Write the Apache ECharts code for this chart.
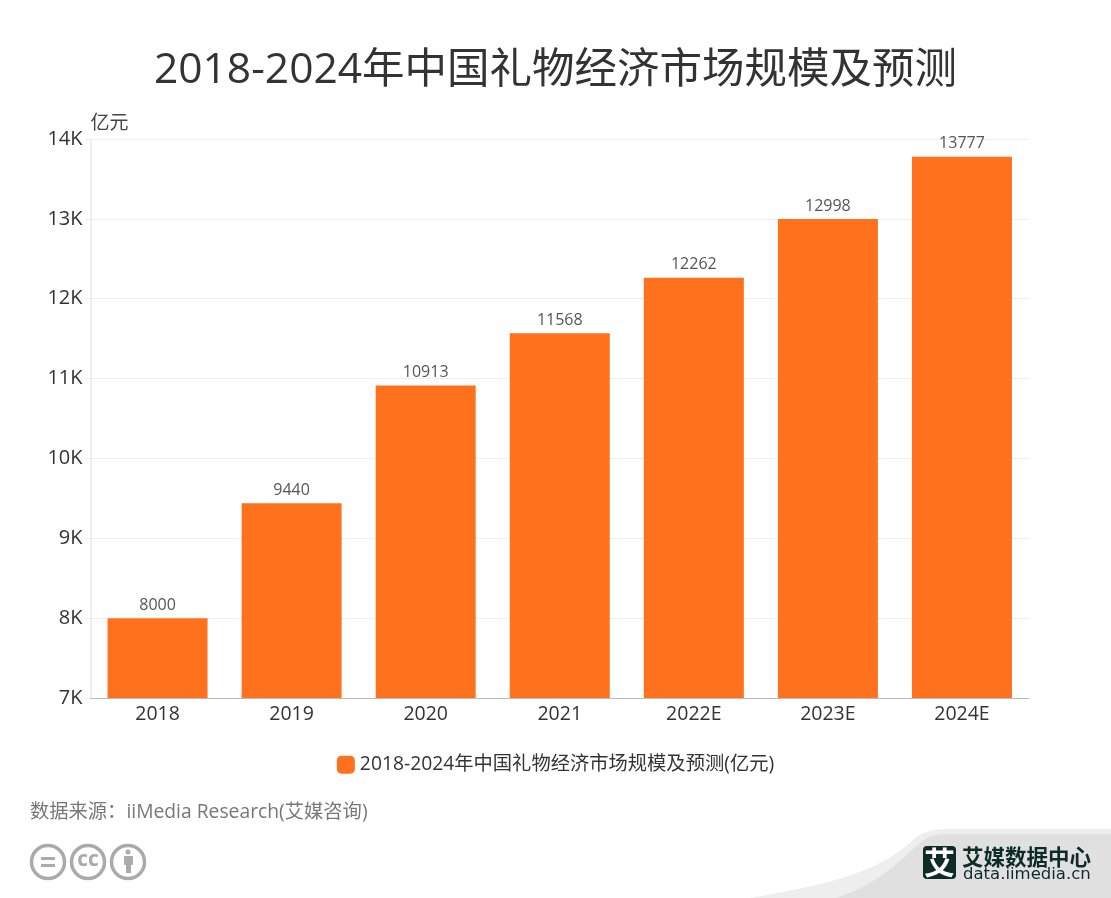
<!DOCTYPE html>
<html lang="zh">

<head>
    <meta charset="UTF-8">
    <title>2018-2024年中国礼物经济市场规模及预测</title>
    <script src="https://cdn.jsdelivr.net/npm/echarts@6/dist/echarts.min.js"></script>
    <style>
        html, body { margin: 0; padding: 0; background: #fff; }
        #main { width: 1111px; height: 898px; }
    </style>
</head>

<body>
    <div id="main"></div>
    <script>
        var years = ['2018', '2019', '2020', '2021', '2022E', '2023E', '2024E'];
        var marketSize = [8000, 9440, 10913, 11568, 12262, 12998, 13777];
        var seriesName = '2018-2024年中国礼物经济市场规模及预测(亿元)';
        var titleText = '2018-2024年中国礼物经济市场规模及预测';
        var sourceText = '数据来源：iiMedia Research(艾媒咨询)';
        var fontFamily = '"Open Sans", "Noto Sans CJK SC", sans-serif';

        // graphic 组件没有 path 类型，水印曲线单独注册
        echarts.graphic.registerShape('waveOuter', echarts.graphic.extendShape({
            buildPath: function (ctx) {
                ctx.moveTo(750, 898);
                ctx.bezierCurveTo(830, 884, 880, 872, 913, 840);
                ctx.bezierCurveTo(922, 832, 932, 829, 950, 829);
                ctx.lineTo(1111, 829);
                ctx.lineTo(1111, 898);
                ctx.closePath();
            }
        }));
        echarts.graphic.registerShape('waveInner', echarts.graphic.extendShape({
            buildPath: function (ctx) {
                ctx.moveTo(835, 898);
                ctx.bezierCurveTo(875, 886, 895, 865, 920, 843);
                ctx.bezierCurveTo(928, 836, 935, 834, 950, 834);
                ctx.lineTo(1111, 834);
                ctx.lineTo(1111, 898);
                ctx.closePath();
            }
        }));

        var myChart = echarts.init(document.getElementById('main'), null, { renderer: 'canvas' });

        // 右下角水印和左下角 cc 图标
        var decorations = [
            { type: 'waveOuter', style: { fill: '#eeeeee' } },
            { type: 'waveInner', style: { fill: '#e0e0e0' } },
            { type: 'rect', shape: { x: 923, y: 846, width: 33, height: 33, r: 4 }, style: { fill: '#0f2b26' } },
            { type: 'text', x: 939.5, y: 862.5, style: { text: '艾', fill: '#fff', font: 'bold 31px "Noto Sans CJK SC"', align: 'center', verticalAlign: 'middle' } },
            { type: 'text', x: 962, y: 857, style: { text: '艾媒数据中心', fill: '#0f2b26', font: 'bold 21.5px "Noto Sans CJK SC"', verticalAlign: 'middle' } },
            { type: 'text', x: 963, y: 875, style: { text: 'data.iimedia.cn', fill: '#0f2b26', font: '16.5px "DejaVu Sans"', verticalAlign: 'middle' } },
            { type: 'circle', shape: { cx: 48, cy: 862, r: 16.5 }, style: { fill: 'none', stroke: '#aaaaaa', lineWidth: 3.5 } },
            { type: 'rect', shape: { x: 41, y: 857, width: 14, height: 3 }, style: { fill: '#aaaaaa' } },
            { type: 'rect', shape: { x: 41, y: 864, width: 14, height: 3 }, style: { fill: '#aaaaaa' } },
            { type: 'circle', shape: { cx: 88, cy: 862, r: 16.5 }, style: { fill: 'none', stroke: '#aaaaaa', lineWidth: 3.5 } },
            { type: 'text', x: 88, y: 860, style: { text: 'cc', fill: '#aaaaaa', font: 'bold 21px "Open Sans"', align: 'center', verticalAlign: 'middle' } },
            { type: 'circle', shape: { cx: 128, cy: 862, r: 16.5 }, style: { fill: 'none', stroke: '#aaaaaa', lineWidth: 3.5 } },
            { type: 'circle', shape: { cx: 128, cy: 852, r: 2.5 }, style: { fill: '#aaaaaa' } },
            { type: 'rect', shape: { x: 124, y: 856, width: 9, height: 9, r: 1 }, style: { fill: '#aaaaaa' } },
            { type: 'rect', shape: { x: 126, y: 864, width: 5, height: 9 }, style: { fill: '#aaaaaa' } },
            { type: 'text', x: 30, y: 813, style: { text: sourceText, fill: '#777777', font: '19.3px ' + fontFamily, verticalAlign: 'middle' } }
        ];

        var option = {
            animation: false,
            backgroundColor: '#fff',
            textStyle: { fontFamily: fontFamily },
            title: {
                text: titleText,
                left: 'center',
                top: 45,
                textStyle: { fontSize: 42.5, fontWeight: 'normal', color: '#333', fontFamily: fontFamily }
            },
            legend: {
                data: [seriesName],
                top: 750,
                left: 'center',
                itemWidth: 18,
                itemHeight: 18,
                itemGap: 6,
                icon: 'roundRect',
                textStyle: { fontSize: 19.3, color: '#333', fontFamily: fontFamily, padding: [0, 0, 0, 0] }
            },
            grid: { left: 90.5, right: 82, top: 139, bottom: 200 },
            xAxis: {
                type: 'category',
                data: years,
                axisLine: { lineStyle: { color: '#bbbbbb', width: 1 } },
                axisTick: { alignWithLabel: true, length: 4, lineStyle: { color: '#bbbbbb' } },
                axisLabel: { fontSize: 19.5, color: '#333', margin: 7 }
            },
            yAxis: {
                type: 'value',
                name: '亿元',
                nameLocation: 'end',
                nameGap: 6,
                nameTextStyle: { fontSize: 19, color: '#444', align: 'left', padding: [0, 0, 0, 0] },
                min: 7000,
                max: 14000,
                interval: 1000,
                axisLine: { show: true, lineStyle: { color: '#eeeeee', width: 2 } },
                axisTick: { show: true, length: 5, lineStyle: { color: '#eeeeee' } },
                splitLine: { lineStyle: { color: '#eeeeee' } },
                axisLabel: {
                    fontSize: 20,
                    color: '#333',
                    margin: 8,
                    formatter: function (value) {
                        return value / 1000 + 'K';
                    }
                }
            },
            series: [{
                name: seriesName,
                type: 'bar',
                data: marketSize,
                barWidth: 100,
                itemStyle: { color: '#ff711c' },
                label: { show: true, position: 'top', distance: 5, fontSize: 16, color: '#555' }
            }],
            graphic: { elements: decorations }
        };
        myChart.setOption(option);
    </script>
</body>

</html>
